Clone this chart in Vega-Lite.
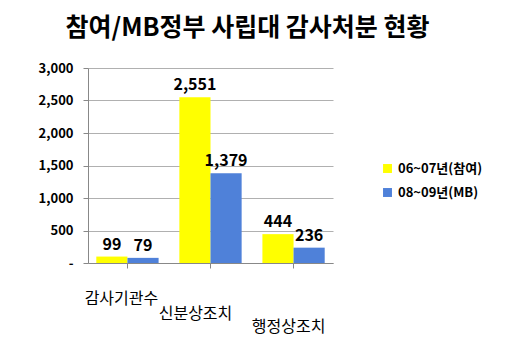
{
  "$schema": "https://vega.github.io/schema/vega-lite/v6.json",
  "width": 245,
  "height": 195,
  "padding": {"left": 38, "top": 16, "right": 10, "bottom": 10},
  "background": "white",
  "title": {
    "text": "참여/MB정부 사립대 감사처분 현황",
    "font": "Noto Sans CJK KR",
    "fontSize": 25,
    "fontWeight": "bold",
    "color": "#000000",
    "anchor": "middle",
    "dx": 37,
    "offset": 21
  },
  "data": {
    "values": [
      {"category": "감사기관수", "series": "06~07년(참여)", "value": 99},
      {"category": "감사기관수", "series": "08~09년(MB)", "value": 79},
      {"category": "신분상조치", "series": "06~07년(참여)", "value": 2551},
      {"category": "신분상조치", "series": "08~09년(MB)", "value": 1379},
      {"category": "행정상조치", "series": "06~07년(참여)", "value": 444},
      {"category": "행정상조치", "series": "08~09년(MB)", "value": 236}
    ]
  },
  "encoding": {
    "x": {
      "field": "category",
      "type": "nominal",
      "sort": null,
      "title": null,
      "scale": {"paddingInner": 0.25, "paddingOuter": 0.1},
      "axis": {
        "labelAngle": 0,
        "labelFont": "Noto Sans CJK KR",
        "labelFontSize": 16,
        "labelColor": "#000000",
        "domainColor": "#888888",
        "tickColor": "#888888",
        "labelPadding": {
          "condition": [
            {"test": "datum.value == '신분상조치'", "value": 37},
            {"test": "datum.value == '행정상조치'", "value": 50}
          ],
          "value": 22
        },
        "labelOffset": {
          "condition": [
            {"test": "datum.value == '신분상조치'", "value": -15},
            {"test": "datum.value == '행정상조치'", "value": -5}
          ],
          "value": -6
        }
      }
    },
    "xOffset": {"field": "series", "type": "nominal", "sort": null},
    "y": {
      "field": "value",
      "type": "quantitative",
      "title": null,
      "scale": {"domain": [0, 3000]},
      "axis": {
        "values": [0, 500, 1000, 1500, 2000, 2500, 3000],
        "labelExpr": "datum.value == 0 ? '-' : format(datum.value, ',')",
        "labelFont": "Noto Sans CJK KR",
        "labelFontSize": 13,
        "labelFontWeight": "bold",
        "labelColor": "#000000",
        "gridColor": "#b0b0b0",
        "domainColor": "#888888",
        "tickColor": "#888888",
        "labelPadding": 10
      }
    }
  },
  "layer": [
    {
      "mark": {"type": "bar", "stroke": null},
      "encoding": {
        "color": {
          "field": "series",
          "type": "nominal",
          "sort": null,
          "scale": {"range": ["#ffff00", "#4f81d9"]},
          "legend": {
            "title": null,
            "orient": "none",
            "legendX": 293,
            "legendY": 94,
            "symbolType": "square",
            "symbolSize": 80,
            "labelFont": "Noto Sans CJK KR",
            "labelFontSize": 13,
            "labelFontWeight": "bold",
            "labelColor": "#000000",
            "rowPadding": 10
          }
        }
      }
    },
    {
      "mark": {
        "type": "text",
        "dy": -12,
        "font": "Noto Sans CJK KR",
        "fontSize": 16,
        "fontWeight": "bold",
        "color": "#000000"
      },
      "encoding": {
        "text": {"field": "value", "type": "quantitative", "format": ","}
      }
    }
  ],
  "config": {
    "view": {"stroke": null}
  }
}
